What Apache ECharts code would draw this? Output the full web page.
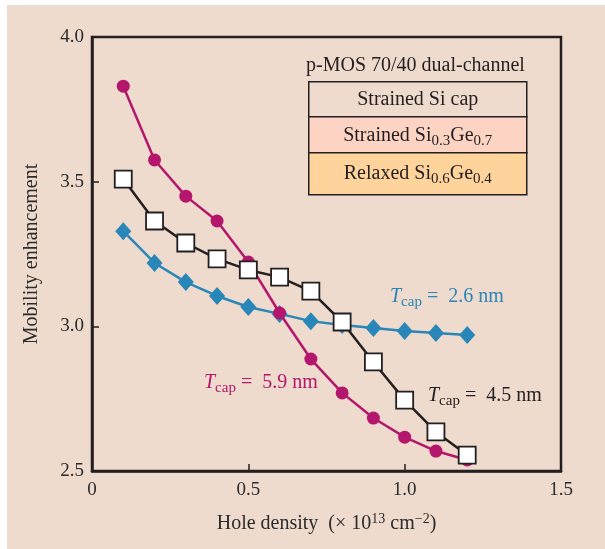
<!DOCTYPE html>
<html>
<head>
<meta charset="utf-8">
<script src="https://cdn.jsdelivr.net/npm/echarts@6/dist/echarts.min.js"></script>
<style>
html,body{margin:0;padding:0;background:#ffffff;}
#bg{position:absolute;left:7px;top:5px;width:598px;height:544px;background:#EFDACE;}
#chart{position:absolute;left:0;top:0;width:605px;height:549px;}
</style>
</head>
<body>
<div id="bg"></div>
<div id="chart"></div>
<script>
const holeDensity = [0.1, 0.2, 0.3, 0.4, 0.5, 0.6, 0.7, 0.8, 0.9, 1.0, 1.1, 1.2];
const tcap59 = [3.83, 3.575, 3.45, 3.364, 3.222, 3.046, 2.887, 2.77, 2.683, 2.617, 2.569, 2.538];
const tcap45 = [3.509, 3.364, 3.288, 3.233, 3.195, 3.170, 3.122, 3.015, 2.877, 2.745, 2.635, 2.555];
const tcap26 = [3.329, 3.219, 3.153, 3.105, 3.067, 3.043, 3.018, 3.005, 2.994, 2.984, 2.977, 2.970];
const xTicks = [0, 0.5, 1.0, 1.5];
const yTicks = [2.5, 3.0, 3.5, 4.0];

const FONT = '"Liberation Serif", "DejaVu Serif", serif';
const MAG = '#B3166B', BLUE = '#2986B8', BLK = '#231F20', TXT = '#2b2b2b';

function pairs(ys){ return holeDensity.map((x,i)=>[x, ys[i]]); }

const chart = echarts.init(document.getElementById('chart'), null, {renderer:'canvas'});

function tcapText(value, color, x, y){
  return {
    type:'text', left:x, top:y, z:10,
    style:{
      rich:{
        t:{fontFamily:FONT, fontStyle:'italic', fontSize:20, fill:color},
        s:{fontFamily:FONT, fontSize:15, fill:color, padding:[11,0,0,0]},
        n:{fontFamily:FONT, fontSize:20, fill:color}
      },
      text:'{t|T}{s|cap}{n| =  ' + value + '}'
    }
  };
}

const option = {
  backgroundColor:'transparent',
  animation:false,
  grid:{left:92, top:37, width:469, height:434, show:true, borderColor:BLK, borderWidth:2.5, backgroundColor:'transparent'},
  xAxis:{
    type:'value', min:0, max:1.5, interval:0.5,
    axisLine:{show:true, lineStyle:{color:BLK, width:2.5}},
    axisTick:{show:true, inside:true, length:7, lineStyle:{color:BLK, width:1.5}},
    splitLine:{show:false},
    axisLabel:{fontFamily:FONT, fontSize:19, color:TXT, margin:10,
      formatter:v=>{ const t = xTicks.find(k=>Math.abs(k-v)<1e-9); return t===0?'0':(t!==undefined?t.toFixed(1):''); }},
    name:'{a|Hole density  (× 10}{p|13}{a| cm}{p|−2}{a|)}',
    nameLocation:'middle', nameGap:41,
    nameTextStyle:{
      rich:{
        a:{fontFamily:FONT, fontSize:20, color:TXT},
        p:{fontFamily:FONT, fontSize:14, color:TXT, padding:[0,0,9,0]}
      }
    }
  },
  yAxis:{
    type:'value', min:2.5, max:4.0, interval:0.5,
    axisLine:{show:true, lineStyle:{color:BLK, width:2.5}},
    axisTick:{show:true, inside:true, length:7, lineStyle:{color:BLK, width:1.5}},
    splitLine:{show:false},
    axisLabel:{fontFamily:FONT, fontSize:19, color:TXT, margin:8,
      formatter:v=>{ const t = yTicks.find(k=>Math.abs(k-v)<1e-9); return t!==undefined?t.toFixed(1):''; }},
    name:'Mobility enhancement', nameLocation:'middle', nameGap:50,
    nameTextStyle:{fontFamily:FONT, fontSize:20, color:TXT}
  },
  series:[
    {type:'line', name:'Tcap 2.6', data:pairs(tcap26), symbol:'diamond', symbolSize:[16,18],
      lineStyle:{color:BLUE, width:2.5}, itemStyle:{color:BLUE}, z:2},
    {type:'line', name:'Tcap 5.9', data:pairs(tcap59), symbol:'circle', symbolSize:13,
      lineStyle:{color:MAG, width:2.5}, itemStyle:{color:MAG}, z:3},
    {type:'line', name:'Tcap 4.5', data:pairs(tcap45), symbol:'rect', symbolSize:17,
      lineStyle:{color:BLK, width:2.5}, itemStyle:{color:'#ffffff', borderColor:BLK, borderWidth:1.8}, z:4}
  ],
  graphic:[
    {type:'text', left:306, top:56, z:10, style:{text:'p-MOS 70/40 dual-channel', fontFamily:FONT, fontSize:20, fill:BLK}},
    {type:'group', left:308, top:81, z:10, children:[
      {type:'rect', shape:{x:0,y:0,width:218,height:35}, style:{fill:'#EFDACE', stroke:BLK, lineWidth:1.5}},
      {type:'rect', shape:{x:0,y:35,width:218,height:36}, style:{fill:'#FDD3C3', stroke:BLK, lineWidth:1.5}},
      {type:'rect', shape:{x:0,y:71,width:218,height:42}, style:{fill:'#FED39C', stroke:BLK, lineWidth:1.5}},
      {type:'text', x:109, y:18, style:{text:'Strained Si cap', fontFamily:FONT, fontSize:20, fill:BLK, align:'center', verticalAlign:'middle'}},
      {type:'text', x:109, y:54, style:{
        rich:{a:{fontFamily:FONT, fontSize:20, fill:BLK}, s:{fontFamily:FONT, fontSize:15, fill:BLK, padding:[11,0,0,0]}},
        text:'{a|Strained Si}{s|0.3}{a|Ge}{s|0.7}', align:'center', verticalAlign:'middle'}},
      {type:'text', x:109, y:92, style:{
        rich:{a:{fontFamily:FONT, fontSize:20, fill:BLK}, s:{fontFamily:FONT, fontSize:15, fill:BLK, padding:[11,0,0,0]}},
        text:'{a|Relaxed Si}{s|0.6}{a|Ge}{s|0.4}', align:'center', verticalAlign:'middle'}}
    ]},
    tcapText('2.6 nm', BLUE, 390, 287),
    tcapText('5.9 nm', MAG, 204, 373),
    tcapText('4.5 nm', BLK, 428, 386)
  ]
};
chart.setOption(option);
</script>
</body>
</html>
